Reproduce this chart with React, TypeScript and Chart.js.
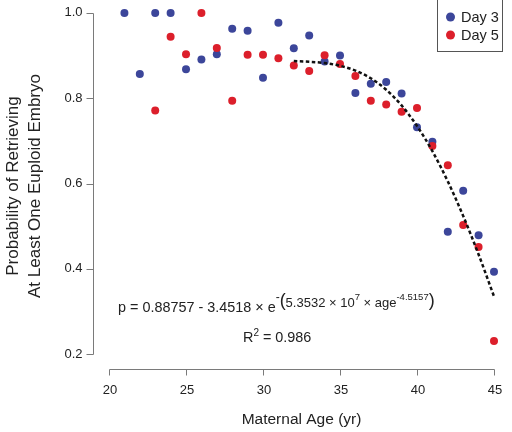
import React, { useEffect, useRef } from "react";
import { Chart, registerables } from "chart.js";

Chart.register(...registerables);

const day3Ages = [21, 22, 23, 24, 25, 26, 27, 28, 29, 30, 31, 32, 33, 34, 35, 36, 37, 38, 39, 40, 41, 42, 43, 44, 45];
const day3Values = [1.0, 0.857, 1.0, 1.0, 0.868, 0.891, 0.903, 0.963, 0.958, 0.848, 0.977, 0.917, 0.947, 0.886, 0.9, 0.812, 0.834, 0.838, 0.811, 0.732, 0.698, 0.487, 0.583, 0.479, 0.393];

const day5Ages = [23, 24, 25, 26, 27, 28, 29, 30, 31, 32, 33, 34, 35, 36, 37, 38, 39, 40, 41, 42, 43, 44, 45];
const day5Values = [0.771, 0.944, 0.903, 1.0, 0.918, 0.794, 0.902, 0.902, 0.894, 0.877, 0.864, 0.901, 0.88, 0.852, 0.794, 0.785, 0.768, 0.777, 0.688, 0.643, 0.503, 0.451, 0.231];

const fitAges = [32, 33, 34, 35, 36, 37, 38, 39, 40, 41, 42, 43, 44, 45];
const fitValues = [0.887, 0.8855, 0.8824, 0.876, 0.8648, 0.8467, 0.82, 0.7831, 0.7351, 0.6758, 0.6051, 0.5241, 0.4337, 0.3355];

const xTicks = [20, 25, 30, 35, 40, 45];
const yTicks = [0.2, 0.4, 0.6, 0.8, 1.0];
const yTickLabels = ["0.2", "0.4", "0.6", "0.8", "1.0"];

const seriesNames = ["Day 3", "Day 5"];
const BLUE = "#3c469a";
const RED = "#dc1f2b";
const FONT = "'Liberation Sans', Arial, sans-serif";

const decorPlugin = {
  id: "decor",
  afterDraw(chart: any) {
    const ctx = chart.ctx as CanvasRenderingContext2D;
    const xs = chart.scales.x;
    const ys = chart.scales.y;
    const area = chart.chartArea;
    ctx.save();
    ctx.strokeStyle = "#7a7a7a";
    ctx.lineWidth = 1;
    const axY = Math.round(area.bottom) + 0.5;
    const axX = Math.round(area.left) + 0.5;
    ctx.beginPath();
    ctx.moveTo(Math.round(xs.getPixelForValue(xTicks[0])) + 0.5, axY);
    ctx.lineTo(Math.round(xs.getPixelForValue(xTicks[xTicks.length - 1])) + 0.5, axY);
    xTicks.forEach((t) => {
      const px = Math.round(xs.getPixelForValue(t)) + 0.5;
      ctx.moveTo(px, axY);
      ctx.lineTo(px, axY + 6);
    });
    ctx.stroke();
    ctx.beginPath();
    ctx.moveTo(axX, Math.round(ys.getPixelForValue(yTicks[0])) + 0.5);
    ctx.lineTo(axX, Math.round(ys.getPixelForValue(yTicks[yTicks.length - 1])) + 0.5);
    yTicks.forEach((t) => {
      const py = Math.round(ys.getPixelForValue(t)) + 0.5;
      ctx.moveTo(axX, py);
      ctx.lineTo(axX - 7, py);
    });
    ctx.stroke();

    ctx.fillStyle = "#222";
    ctx.font = `13px ${FONT}`;
    ctx.textAlign = "center";
    ctx.textBaseline = "middle";
    xTicks.forEach((t) => {
      ctx.fillText(String(t), xs.getPixelForValue(t) + 1, axY + 21);
    });
    ctx.textAlign = "right";
    yTicks.forEach((t, i) => {
      ctx.fillText(yTickLabels[i], axX - 11, ys.getPixelForValue(t));
    });

    ctx.font = `15.5px ${FONT}`;
    ctx.textAlign = "center";
    ctx.fillText("Maternal Age (yr)", (xs.getPixelForValue(20) + xs.getPixelForValue(45)) / 2, 420);
    ctx.save();
    ctx.translate(13, 186);
    ctx.rotate(-Math.PI / 2);
    ctx.font = `17px ${FONT}`;
    ctx.fillText("Probability of Retrieving", 0, 0);
    ctx.fillText("At Least One Euploid Embryo", 0, 22);
    ctx.restore();

    ctx.textAlign = "left";
    ctx.textBaseline = "alphabetic";
    const segs: [string, number, number][] = [
      ["p = 0.88757 - 3.4518 \u00d7 e", 14.4, 312],
      ["-", 12, 301],
      ["(", 18, 306],
      ["5.3532 \u00d7 10", 13, 306.5],
      ["7", 9.5, 300],
      [" \u00d7 age", 13, 306.5],
      ["-4.5157", 9.5, 300],
      [")", 18, 306],
    ];
    let x = 118;
    segs.forEach(([t, s, b]) => {
      ctx.font = `${s}px ${FONT}`;
      ctx.fillText(t, x, b);
      x += ctx.measureText(t).width;
    });
    const r2: [string, number, number][] = [
      ["R", 14.4, 342],
      ["2", 10, 336],
      [" = 0.986", 14.4, 342],
    ];
    x = 243;
    r2.forEach(([t, s, b]) => {
      ctx.font = `${s}px ${FONT}`;
      ctx.fillText(t, x, b);
      x += ctx.measureText(t).width;
    });

    ctx.strokeStyle = "#555";
    ctx.lineWidth = 1;
    ctx.strokeRect(437.5, -0.5, 65, 52);
    const cols = [BLUE, RED];
    const ly = [17, 35];
    ctx.font = `14.5px ${FONT}`;
    ctx.textBaseline = "middle";
    seriesNames.forEach((n, i) => {
      ctx.fillStyle = cols[i];
      ctx.beginPath();
      ctx.arc(450.5, ly[i], 4.5, 0, Math.PI * 2);
      ctx.fill();
      ctx.fillStyle = "#222";
      ctx.fillText(n, 461, ly[i] + 1);
    });
    ctx.restore();
  },
};

export default function App() {
  const ref = useRef<HTMLCanvasElement>(null);
  useEffect(() => {
    const canvas = ref.current;
    if (!canvas) return;
    const chart = new Chart(canvas, {
      type: "scatter",
      data: {
        datasets: [
          {
            label: "Fit",
            data: fitAges.map((a, i) => ({ x: a, y: fitValues[i] })),
            showLine: true,
            borderColor: "#111",
            borderWidth: 2.5,
            borderDash: [3.5, 2.5],
            pointRadius: 0,
            cubicInterpolationMode: "monotone",
          },
          {
            label: seriesNames[1],
            data: day5Ages.map((a, i) => ({ x: a, y: day5Values[i] })),
            backgroundColor: RED,
            borderWidth: 0,
            pointRadius: 4,
          },
          {
            label: seriesNames[0],
            data: day3Ages.map((a, i) => ({ x: a, y: day3Values[i] })),
            backgroundColor: BLUE,
            borderWidth: 0,
            pointRadius: 4,
          },
        ],
      },
      options: {
        animation: false,
        responsive: false,
        devicePixelRatio: 1,
        layout: { padding: { left: 93, right: 10, top: 0, bottom: 63 } },
        plugins: { legend: { display: false }, tooltip: { enabled: false } },
        scales: {
          x: { type: "linear", min: 18.96, max: 45.52, display: false },
          y: { type: "linear", min: 0.1652, max: 1.0209, display: false },
        },
      } as any,
      plugins: [decorPlugin],
    });
    return () => chart.destroy();
  }, []);
  return (
    <div style={{ position: "absolute", left: 0, top: 0, width: 512, height: 432, background: "#fff" }}>
      <canvas ref={ref} width={512} height={432} />
    </div>
  );
}
